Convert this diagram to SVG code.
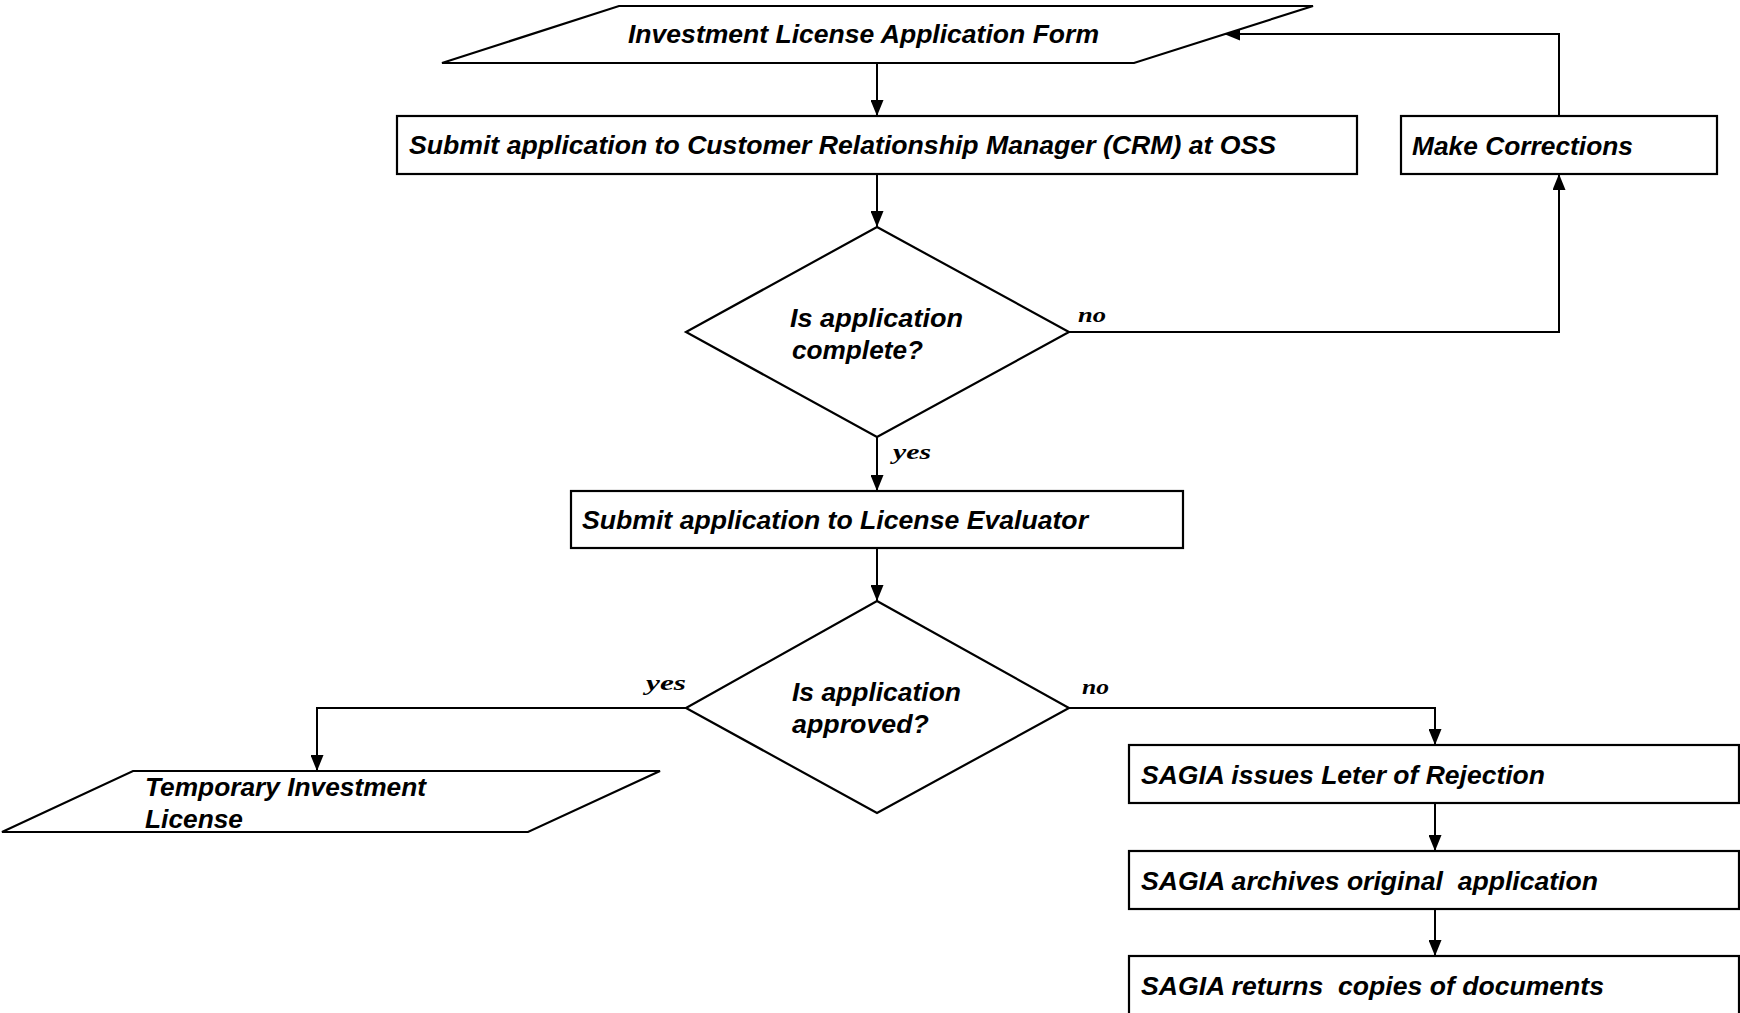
<svg xmlns="http://www.w3.org/2000/svg" width="1740" height="1013" viewBox="0 0 1740 1013">
<style>
.shape{fill:#fff;stroke:#000;stroke-width:2.2}
.t{font-family:"Liberation Sans",Arial,sans-serif;font-weight:bold;font-style:italic;font-size:25px;fill:#000;white-space:pre}
.d{font-size:26px}
.lbl{font-family:"Liberation Serif","Times New Roman",serif;font-weight:bold;font-style:italic;font-size:22px;fill:#000}
.c{fill:none;stroke:#000;stroke-width:2;marker-end:url(#ah)}
</style>
<defs>
<marker id="ah" markerUnits="userSpaceOnUse" markerWidth="16" markerHeight="13" refX="16" refY="6.5" orient="auto">
<path d="M0,0 L16,6.5 L0,13 z" fill="#000"/>
</marker>
</defs>
<rect width="1740" height="1013" fill="#fff"/>
<g id="connectors">
<path class="c" d="M877,63 V116"/>
<path class="c" d="M877,174 V227"/>
<path class="c" d="M1069,332 H1559 V174"/>
<path class="c" d="M1559,116 V34 H1224"/>
<path class="c" d="M877,437 V491"/>
<path class="c" d="M877,548 V601"/>
<path class="c" d="M686,708 H317 V771"/>
<path class="c" d="M1069,708 H1435 V745"/>
<path class="c" d="M1435,803 V851"/>
<path class="c" d="M1435,909 V956"/>
<text class="lbl" x="1078" y="322" textLength="28" lengthAdjust="spacingAndGlyphs">no</text>
<text class="lbl" x="893" y="459" textLength="38" lengthAdjust="spacingAndGlyphs">yes</text>
<text class="lbl" x="646" y="690" textLength="40" lengthAdjust="spacingAndGlyphs">yes</text>
<text class="lbl" x="1082" y="694" textLength="27" lengthAdjust="spacingAndGlyphs">no</text>
</g>
<g id="form">
<polygon class="shape" points="619,6 1313,6 1134,63 442,63"/>
<text class="t" x="628" y="43" textLength="471" lengthAdjust="spacingAndGlyphs">Investment License Application Form</text>
</g>
<g id="submit-crm">
<rect class="shape" x="397" y="116" width="960" height="58"/>
<text class="t" x="409" y="154" textLength="867" lengthAdjust="spacingAndGlyphs">Submit application to Customer Relationship Manager (CRM) at OSS</text>
</g>
<g id="make-corrections">
<rect class="shape" x="1401" y="116" width="316" height="58"/>
<text class="t" x="1412" y="155" style="font-size:26px" textLength="221" lengthAdjust="spacingAndGlyphs">Make Corrections</text>
</g>
<g id="complete">
<polygon class="shape" points="877,227 1069,332 877,437 686,332"/>
<text class="t d" x="790" y="327" textLength="173" lengthAdjust="spacingAndGlyphs">Is application</text>
<text class="t d" x="792" y="359" textLength="131" lengthAdjust="spacingAndGlyphs">complete?</text>
</g>
<g id="submit-evaluator">
<rect class="shape" x="571" y="491" width="612" height="57"/>
<text class="t" x="582" y="529" textLength="506" lengthAdjust="spacingAndGlyphs">Submit application to License Evaluator</text>
</g>
<g id="approved">
<polygon class="shape" points="877,601 1069,708 877,813 686,708"/>
<text class="t d" x="792" y="701" textLength="169" lengthAdjust="spacingAndGlyphs">Is application</text>
<text class="t d" x="792" y="733" textLength="137" lengthAdjust="spacingAndGlyphs">approved?</text>
</g>
<g id="temp-license">
<polygon class="shape" points="133,771 660,771 528,832 2,832"/>
<text class="t" x="145" y="796" textLength="281" lengthAdjust="spacingAndGlyphs">Temporary Investment</text>
<text class="t" x="145" y="828" textLength="98" lengthAdjust="spacingAndGlyphs">License</text>
</g>
<g id="rejection">
<rect class="shape" x="1129" y="745" width="610" height="58"/>
<text class="t" x="1141" y="784" textLength="404" lengthAdjust="spacingAndGlyphs">SAGIA issues Leter of Rejection</text>
</g>
<g id="archives">
<rect class="shape" x="1129" y="851" width="610" height="58"/>
<text class="t" x="1141" y="890" textLength="457" lengthAdjust="spacingAndGlyphs">SAGIA archives original  application</text>
</g>
<g id="returns">
<rect class="shape" x="1129" y="956" width="610" height="70"/>
<text class="t" x="1141" y="995" textLength="463" lengthAdjust="spacingAndGlyphs">SAGIA returns  copies of documents</text>
</g>
</svg>
